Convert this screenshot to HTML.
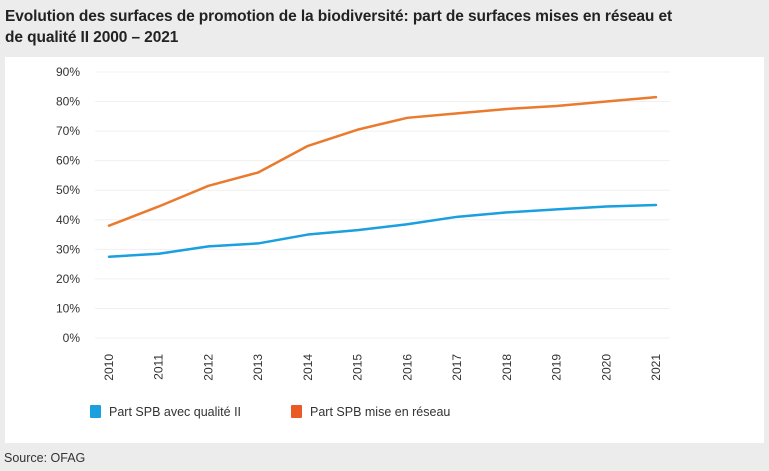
<!DOCTYPE html>
<html><head><meta charset="utf-8"><style>
body{margin:0;width:769px;height:471px;background:#ececec;font-family:"Liberation Sans",sans-serif;overflow:hidden;position:relative}
#title{position:absolute;left:5px;top:6px;font-size:15.5px;font-weight:bold;color:#222;line-height:21px;letter-spacing:-0.1px}
#panel{position:absolute;left:5px;top:57px;width:759px;height:386px;background:#fff}
#source{position:absolute;left:4px;top:451px;font-size:12.5px;color:#333}
svg{position:absolute;left:0;top:0}
</style></head><body>
<div id="title">Evolution des surfaces de promotion de la biodiversité: part de surfaces mises en réseau et<br>de qualité II 2000 – 2021</div>
<div id="panel"></div>
<div id="source">Source: OFAG</div>
<svg id="chart" width="769" height="471"></svg>
<script>
const years=["2010","2011","2012","2013","2014","2015","2016","2017","2018","2019","2020","2021"];
const qualite=[27.5,28.5,31,32,35,36.5,38.5,41,42.5,43.5,44.5,45];
const reseau=[38,44.5,51.5,56,65,70.5,74.5,76,77.5,78.5,80,81.5];
const yTicks=[0,10,20,30,40,50,60,70,80,90];
const NS="http://www.w3.org/2000/svg";
const svg=document.getElementById('chart');
const x=i=>109+i*(656-109)/(years.length-1);
const y=v=>338-v*(338-72)/90;
function mk(t,a){const e=document.createElementNS(NS,t);for(const k in a)e.setAttribute(k,a[k]);svg.appendChild(e);return e;}
yTicks.forEach(v=>{
  const g=mk('line',{x1:95,x2:670,y1:y(v),y2:y(v),stroke:'#f0f0f0','stroke-width':1});
  
  
  const t=mk('text',{x:80,y:y(v)+4,'text-anchor':'end','font-size':12,fill:'#333'});
  t.textContent=v+'%';
  
  
});
years.forEach((yr,i)=>{
  const t=mk('text',{x:0,y:0,'font-size':12,fill:'#333','text-anchor':'end',transform:`translate(${x(i)+4},${354}) rotate(-90)`});
  t.textContent=yr;
  
  
});
function line(data,color,name){
  const p=mk('polyline',{points:data.map((v,i)=>x(i)+','+y(v)).join(' '),fill:'none',stroke:color,'stroke-width':2.5,'stroke-linejoin':'round','stroke-linecap':'round'});
  
  
}
line(qualite,'#1a9fdf','series-qualite-ii');
line(reseau,'#ea7a2e','series-mise-en-reseau');
function legend(lx,color,label,name){
  const r=mk('rect',{x:lx,y:405,width:11,height:13,fill:color,rx:1});
  
  
  const t=mk('text',{x:lx+19,y:416,'font-size':12.5,fill:'#333'});
  t.textContent=label;
  
  
}
legend(90,'#1a9fdf','Part SPB avec qualité II','legend-qualite');
legend(291,'#ea5a24','Part SPB mise en réseau','legend-reseau');
</script>
</body></html>
